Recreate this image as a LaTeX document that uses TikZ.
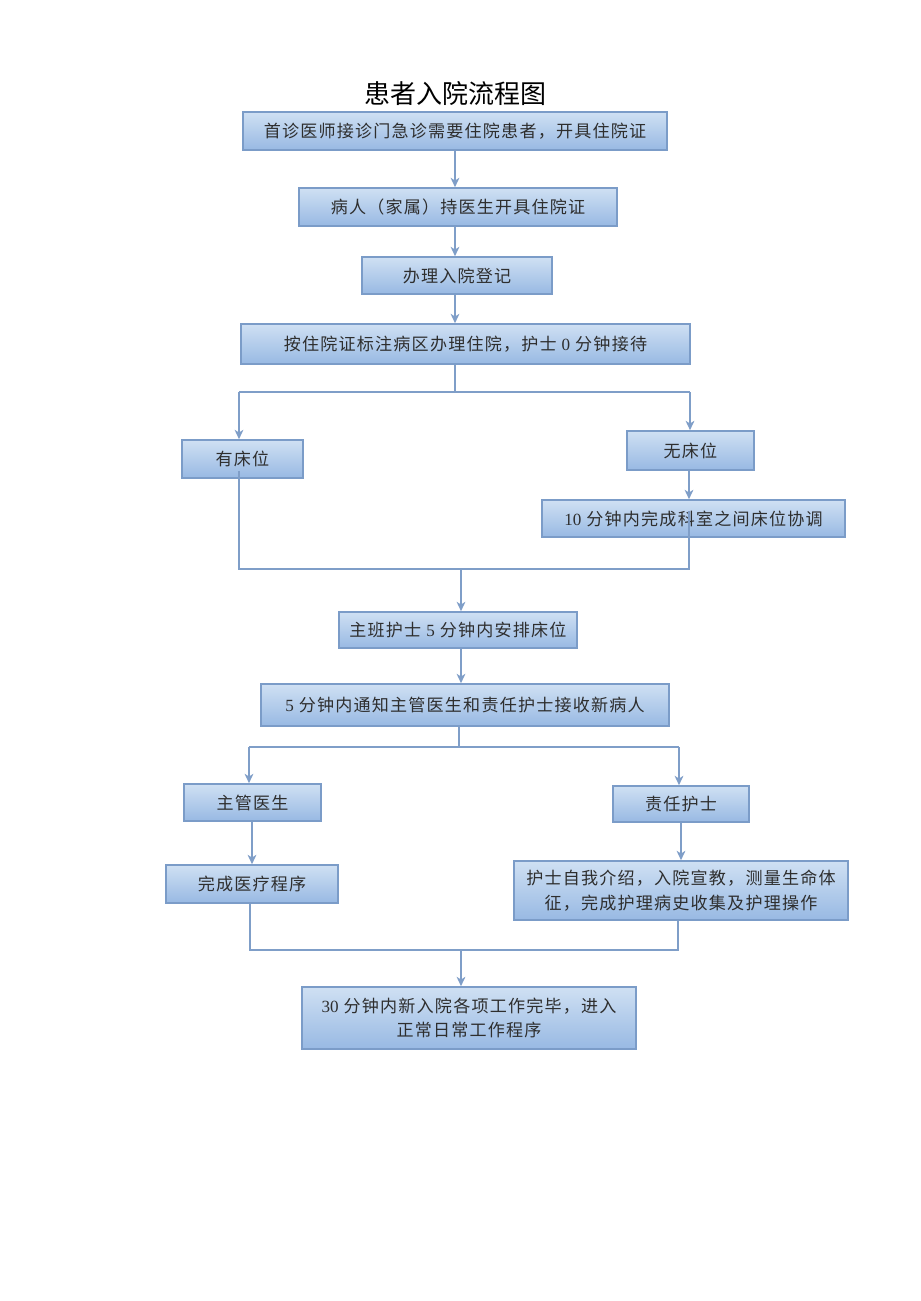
\documentclass[tikz,border=0pt]{standalone}
\usepackage{fontspec}
\newfontfamily\cjk[LetterSpace=7]{Noto Sans CJK SC}
\newfontfamily\cjktitle{Noto Sans CJK SC}
\newfontfamily\numf{Liberation Serif}
\usetikzlibrary{arrows.meta,calc}
\definecolor{boxtop}{HTML}{CFE0F3}
\definecolor{boxbot}{HTML}{98B9E3}
\definecolor{boxedge}{HTML}{7B9CC8}
\definecolor{linec}{HTML}{7F9EC8}
\definecolor{txt}{HTML}{2E2E2E}
\begin{document}
\begin{tikzpicture}[x=0.75pt,y=-0.75pt,
  box/.style={draw=boxedge, line width=1.2pt, top color=boxtop, bottom color=boxbot,
    font=\cjk\fontsize{12.8pt}{19pt}\selectfont, text=txt, align=center, inner sep=0pt},
  wh/.style n args={2}{minimum width=#1*0.75pt, minimum height=#2*0.75pt},
  conn/.style={draw=linec, line width=1.4pt},
  arr/.style={conn, -{Stealth[length=7pt,width=6.5pt,inset=2pt]}}]
\useasboundingbox (0,0) rectangle (920,1301);
\fill[white] (0,0) rectangle (920,1301);

\node[font=\cjktitle\fontsize{19.5pt}{20pt}\selectfont, text=black] (title) at (455,94) {患者入院流程图};

\node[box, wh={424}{38}] (b1) at (455,131) {首诊医师接诊门急诊需要住院患者，开具住院证};
\node[box, wh={318}{38}] (b2) at (458,207) {病人（家属）持医生开具住院证};
\node[box, wh={190}{37}] (b3) at (457,275.5) {办理入院登记};
\node[box, wh={449}{40}] (b4) at (465.5,344) {按住院证标注病区办理住院，护士 {\numf 0} 分钟接待};
\node[box, wh={121}{38}] (yes) at (242.5,459) {有床位};
\node[box, wh={127}{39}] (no) at (690.5,450.5) {无床位};
\node[box, wh={303}{37}] (coord) at (693.5,518.5) {{\numf 10} 分钟内完成科室之间床位协调};
\node[box, wh={238}{36}] (zb) at (458,630) {主班护士 {\numf 5} 分钟内安排床位};
\node[box, wh={408}{42}] (tz) at (465,705) {{\numf 5} 分钟内通知主管医生和责任护士接收新病人};
\node[box, wh={137}{37}] (zg) at (252.5,802.5) {主管医生};
\node[box, wh={136}{36}] (zr) at (681,804) {责任护士};
\node[box, wh={172}{38}] (yl) at (252,884) {完成医疗程序};
\node[box, wh={334}{59}] (hs) at (681,890.5) {护士自我介绍，入院宣教，测量生命体\\征，完成护理病史收集及护理操作};
\node[box, wh={334}{62}, font=\cjk\fontsize{12.8pt}{18pt}\selectfont] (fin) at (469,1018) {{\numf 30} 分钟内新入院各项工作完毕，进入\\正常日常工作程序};

\draw[arr] (b1.south) -- (b1.south |- b2.north);
\draw[arr] (b2.south -| b1.south) -- (b1.south |- b3.north);
\draw[arr] (b3.south -| b1.south) -- (b1.south |- b4.north);

\coordinate (s) at (455,392);
\coordinate (sl) at (239,392);
\coordinate (sr) at (690,392);
\draw[conn] (b4.south -| s) -- (s);
\draw[conn] (sl) -- (sr);
\draw[arr] (sl) -- (sl |- yes.north);
\draw[arr] (sr) -- (sr |- no.north);
\coordinate (nx) at (689,470);
\draw[arr] (no.south -| nx) -- (nx |- coord.north);

\coordinate (ml) at (239,569);
\coordinate (mr) at (689,569);
\coordinate (mm) at (461,569);
\draw[conn] ($(ml |- yes.south)+(0,-8)$) -- (ml) -- (mr) -- ($(mr |- coord.south)+(0,-27)$);
\draw[arr] (mm) -- (mm |- zb.north);
\draw[arr] (zb.south -| mm) -- (mm |- tz.north);

\coordinate (t) at (459,747);
\coordinate (tl) at (249,747);
\coordinate (tr) at (679,747);
\draw[conn] (tz.south -| t) -- (t);
\draw[conn] (tl) -- (tr);
\draw[arr] (tl) -- (tl |- zg.north);
\draw[arr] (tr) -- (tr |- zr.north);
\draw[arr] (zg.south -| yl.north) -- (yl.north);
\draw[arr] (zr.south) -- (zr.south |- hs.north);

\coordinate (bl) at (250,950);
\coordinate (br) at (678,950);
\coordinate (bm) at (461,950);
\draw[conn] (yl.south -| bl) -- (bl) -- (br) -- (hs.south -| br);
\draw[arr] (bm) -- (bm |- fin.north);
\end{tikzpicture}
\end{document}
